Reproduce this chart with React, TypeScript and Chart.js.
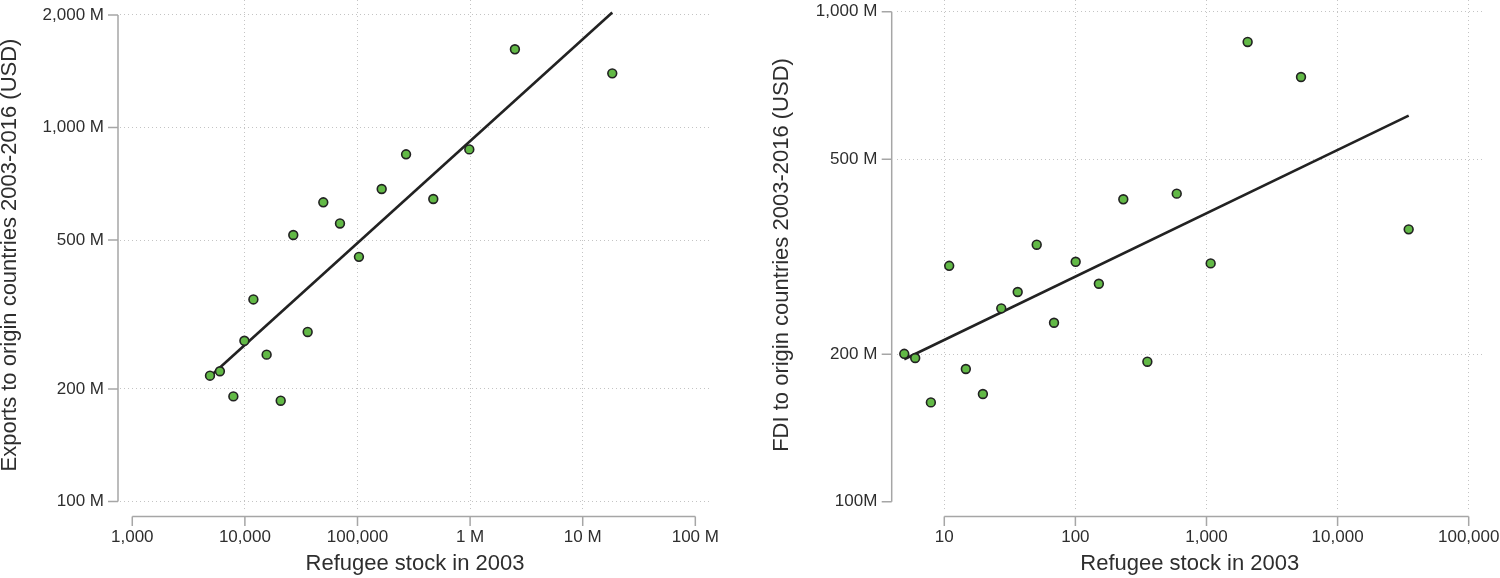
import React, { useEffect, useRef } from "react";
import { Chart, registerables } from "chart.js";

Chart.register(...registerables);

// ---------- Left panel: exports ----------
const exportsRefugeeStock = [
  4900, 6000, 7900, 9900, 11900, 15600, 20800, 26900, 36100, 49700, 69900,
  103000, 164000, 270000, 471000, 984000, 2500000, 18300000,
];
const exportsValuesM = [
  217, 223, 191, 269, 347, 247, 186, 516, 284, 631, 554, 451, 685, 848, 644,
  874, 1619, 1396,
];
const exportsTrendX = [4900, 18300000];
const exportsTrendY = [216, 2030];
const exportsXTicks = [1000, 10000, 100000, 1000000, 10000000, 100000000];
const exportsXTickLabels = ["1,000", "10,000", "100,000", "1 M", "10 M", "100 M"];
const exportsYTicks = [100, 200, 500, 1000, 2000];
const exportsYTickLabels = ["100 M", "200 M", "500 M", "1,000 M", "2,000 M"];

// ---------- Right panel: FDI ----------
const fdiRefugeeStock = [
  4.95, 6.0, 7.9, 10.9, 14.6, 19.7, 27.2, 36.3, 50.7, 68.7, 100.5, 151, 232,
  354, 593, 1076, 2060, 5260, 34850,
];
const fdiValuesM = [
  200.4, 196.5, 159.5, 303, 186.6, 165.9, 248.1, 267.9, 334.6, 231.9, 308.8,
  278.5, 414.2, 193.1, 425.3, 306.5, 867.4, 735.7, 359.6,
];
const fdiTrendX = [4.95, 34850];
const fdiTrendY = [195.3, 613.5];
const fdiXTicks = [10, 100, 1000, 10000, 100000];
const fdiXTickLabels = ["10", "100", "1,000", "10,000", "100,000"];
const fdiYTicks = [100, 200, 500, 1000];
const fdiYTickLabels = ["100M", "200 M", "500 M", "1,000 M"];

const FONT = "'Liberation Sans', Arial, Helvetica, sans-serif";
const TEXT = "#2e2e2e";
const GRID = "#c4c4c4";
const AXIS = "#a6a6a6";
const POINT_FILL = "#62b946";
const POINT_EDGE = "#222222";
const LINE = "#222222";

type PanelSpec = {
  xs: number[];
  ys: number[];
  trendX: number[];
  trendY: number[];
  xTicks: number[];
  xTickLabels: string[];
  yTicks: number[];
  yTickLabels: string[];
  xMin: number;
  xMax: number;
  yMin: number;
  yMax: number;
  yWidth: number;
  rightPad: number;
  yTickPad: number;
  yTitle: string;
  yTitlePad: number;
  yAxisGap: number;
  xGridSkipEnds: boolean;
  yGridSkipFirst: boolean;
};

function makeConfig(s: PanelSpec): any {
  const axesPlugin = {
    id: "offsetAxes",
    afterDraw(chart: any) {
      const { ctx, chartArea, scales } = chart;
      const x = scales.x;
      const y = scales.y;
      ctx.save();
      ctx.strokeStyle = AXIS;
      ctx.lineWidth = 1.5;
      ctx.setLineDash([]);
      // y axis
      const ax = chartArea.left - s.yAxisGap;
      const yp = s.yTicks.map((v) => y.getPixelForValue(v));
      ctx.beginPath();
      ctx.moveTo(ax, Math.min(...yp));
      ctx.lineTo(ax, Math.max(...yp));
      yp.forEach((p) => {
        ctx.moveTo(ax, p);
        ctx.lineTo(ax - 10, p);
      });
      ctx.stroke();
      // x axis
      const ay = chartArea.bottom + 6.5;
      const xp = s.xTicks.map((v) => x.getPixelForValue(v));
      ctx.beginPath();
      ctx.moveTo(Math.min(...xp), ay);
      ctx.lineTo(Math.max(...xp), ay);
      xp.forEach((p) => {
        ctx.moveTo(p, ay);
        ctx.lineTo(p, ay + 9.5);
      });
      ctx.stroke();
      ctx.restore();
    },
  };

  return {
    type: "scatter",
    data: {
      datasets: [
        {
          label: "points",
          data: s.xs.map((x, i) => ({ x, y: s.ys[i] })),
          pointRadius: 4.4,
          pointBorderWidth: 1.6,
          pointBackgroundColor: POINT_FILL,
          pointBorderColor: POINT_EDGE,
          showLine: false,
        },
        {
          label: "fit",
          data: s.trendX.map((x, i) => ({ x, y: s.trendY[i] })),
          showLine: true,
          pointRadius: 0,
          borderColor: LINE,
          borderWidth: 2.6,
          fill: false,
        },
      ],
    },
    options: {
      responsive: false,
      animation: false,
      events: [],
      layout: {
        autoPadding: false,
        padding: { left: 0, top: 0, bottom: 0, right: s.rightPad },
      },
      plugins: {
        legend: { display: false },
        tooltip: { enabled: false },
        title: { display: false },
      },
      scales: {
        x: {
          type: "logarithmic",
          position: "bottom",
          bounds: "data",
          min: s.xMin,
          max: s.xMax,
          afterBuildTicks: (sc: any) => {
            sc.ticks = s.xTicks.map((v) => ({ value: v }));
          },
          afterFit: (sc: any) => {
            sc.height = 68;
            sc.paddingLeft = 0;
            sc.paddingRight = 0;
          },
          ticks: {
            autoSkip: false,
            maxRotation: 0,
            padding: 16.8,
            color: TEXT,
            font: { family: FONT, size: 17 },
            callback: (_v: any, i: number) => s.xTickLabels[i],
          },
          grid: {
            drawTicks: false,
            lineWidth: 1,
            color: (c: any) =>
              s.xGridSkipEnds && (c.index === 0 || c.index === s.xTicks.length - 1)
                ? "rgba(0,0,0,0)"
                : GRID,
          },
          border: { display: false, dash: [1, 3] },
          title: {
            display: true,
            text: "Refugee stock in 2003",
            color: TEXT,
            font: { family: FONT, size: 22 },
            padding: { top: 0, bottom: 0.5 },
          },
        },
        y: {
          type: "logarithmic",
          position: "left",
          bounds: "data",
          min: s.yMin,
          max: s.yMax,
          afterBuildTicks: (sc: any) => {
            sc.ticks = s.yTicks.map((v) => ({ value: v }));
          },
          afterFit: (sc: any) => {
            sc.width = s.yWidth;
            sc.paddingTop = 0;
            sc.paddingBottom = 0;
          },
          ticks: {
            autoSkip: false,
            padding: s.yTickPad,
            color: TEXT,
            font: { family: FONT, size: 17 },
            callback: (_v: any, i: number) => s.yTickLabels[i],
          },
          grid: {
            drawTicks: false,
            lineWidth: 1,
            color: (c: any) =>
              s.yGridSkipFirst && c.index === 0 ? "rgba(0,0,0,0)" : GRID,
          },
          border: { display: false, dash: [1, 3] },
          title: {
            display: true,
            text: s.yTitle,
            color: TEXT,
            font: { family: FONT, size: 22 },
            padding: { top: s.yTitlePad, bottom: 0 },
          },
        },
      },
    },
    plugins: [axesPlugin],
  };
}

const leftSpec: PanelSpec = {
  xs: exportsRefugeeStock,
  ys: exportsValuesM,
  trendX: exportsTrendX,
  trendY: exportsTrendY,
  xTicks: exportsXTicks,
  xTickLabels: exportsXTickLabels,
  yTicks: exportsYTicks,
  yTickLabels: exportsYTickLabels,
  xMin: 778,
  xMax: 1.35e8,
  yMin: 94.9,
  yMax: 2193,
  yWidth: 120,
  rightPad: 40,
  yTickPad: 16,
  yTitle: "Exports to origin countries 2003-2016 (USD)",
  yTitlePad: -3.7,
  yAxisGap: 2,
  xGridSkipEnds: true,
  yGridSkipFirst: false,
};

const rightSpec: PanelSpec = {
  xs: fdiRefugeeStock,
  ys: fdiValuesM,
  trendX: fdiTrendX,
  trendY: fdiTrendY,
  xTicks: fdiXTicks,
  xTickLabels: fdiXTickLabels,
  yTicks: fdiYTicks,
  yTickLabels: fdiYTickLabels,
  xMin: 4.32,
  xMax: 128560,
  yMin: 96.2,
  yMax: 1056.5,
  yWidth: 146.5,
  rightPad: 17,
  yTickPad: 19.2,
  yTitle: "FDI to origin countries 2003-2016 (USD)",
  yTitlePad: 18.5,
  yAxisGap: 4.8,
  xGridSkipEnds: false,
  yGridSkipFirst: true,
};

function Panel({ spec, left }: { spec: PanelSpec; left: number }) {
  const ref = useRef<HTMLCanvasElement>(null);
  useEffect(() => {
    const chart = new Chart(ref.current as HTMLCanvasElement, makeConfig(spec));
    return () => chart.destroy();
  }, [spec]);
  return (
    <canvas
      ref={ref}
      width={750}
      height={578}
      style={{ position: "absolute", left, top: 0, width: 750, height: 578, display: "block" }}
    />
  );
}

export default function App() {
  return (
    <div
      style={{
        position: "absolute",
        left: 0,
        top: 0,
        width: 1500,
        height: 578,
        background: "#ffffff",
        overflow: "hidden",
      }}
    >
      <Panel spec={leftSpec} left={0} />
      <Panel spec={rightSpec} left={750} />
    </div>
  );
}
